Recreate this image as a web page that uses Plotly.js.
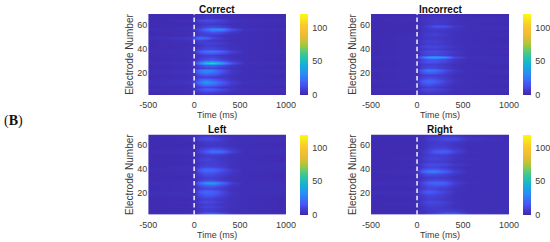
<!DOCTYPE html>
<html><head><meta charset="utf-8">
<script src="https://cdn.plot.ly/plotly-3.0.1.min.js"></script>
<style>html,body{margin:0;padding:0;background:#fff}</style></head>
<body><div id="chart" style="width:550px;height:242px"></div>
<script>
const times = [-500,-40,0,50,120,200,300,400,550,1000];
const panelTitles = ['Correct','Incorrect','Left','Right'];
const timeTicks = [-500,0,500,1000];
const timeTickLabels = ['-500','0','500','1000'];
const electrodeTicks = [20,40,60];
const colorTicks = [0,50,100];

const correctE = [1,3,6,8,10,12,14,16,18,20,22,24,26,28,30,33,35,38,40,43,45,47,49,51,54,56,58,61,64,66,69];
const correctZ = [
[2,2,3,4,4,4,3,3,2,2],[2,3,4,6,7,6,5,3,3,2],[3,3,6,13,19,18,12,6,3,3],[2,3,4,8,10,9,6,4,3,2],
[3,4,8,18,28,24,15,7,3,3],[3,5,11,26,37,31,18,8,4,3],[3,4,8,18,26,20,12,6,3,3],[2,3,4,8,9,8,6,4,3,2],
[2,3,5,11,15,13,8,4,3,2],[3,4,9,22,29,25,14,6,3,3],[3,4,9,25,32,29,16,6,3,3],[2,3,4,8,10,10,7,4,3,2],
[2,3,5,11,17,19,13,6,3,2],[3,4,10,28,56,65,42,15,4,3],[2,3,5,10,15,17,11,6,3,2],[2,3,4,7,9,10,7,4,3,2],
[2,3,4,6,8,8,6,4,3,2],[3,3,7,16,25,27,20,9,3,3],[2,3,4,8,11,11,8,4,3,2],[2,3,3,5,7,7,5,4,3,2],
[2,3,4,7,9,9,7,4,3,2],[2,4,6,9,8,6,5,3,3,2],[3,6,14,25,20,12,6,4,3,2],[2,3,5,8,8,7,5,3,3,2],
[2,3,4,8,11,15,12,6,3,2],[3,3,5,12,22,35,33,14,4,3],[2,3,4,7,11,13,11,5,3,2],[2,2,3,5,6,6,5,3,3,2],
[2,3,5,10,13,12,9,5,3,3],[2,2,3,5,6,6,5,3,3,2],[2,2,3,3,4,4,3,3,2,2]];

const incorrectE = [1,3,6,8,10,13,15,18,20,22,24,27,29,31,33,35,38,40,42,44,46,49,52,55,57,59,61,65,69];
const incorrectZ = [
[2,2,3,3,4,4,3,3,2,2],[2,2,3,5,6,5,4,3,3,2],[3,3,4,10,12,10,7,4,3,3],[2,3,3,7,8,7,5,3,3,2],
[2,3,4,12,15,12,7,4,3,2],[3,3,6,17,23,19,10,5,3,3],[2,3,4,10,13,11,7,4,3,2],[2,3,3,7,8,8,6,3,3,2],
[2,3,4,14,20,18,10,5,3,3],[3,3,6,18,28,25,13,6,3,3],[2,3,3,9,12,11,7,4,3,2],[2,3,3,7,8,8,6,4,3,2],
[2,3,4,11,14,13,9,5,3,3],[2,3,4,11,15,16,11,6,3,3],[3,3,7,23,41,46,34,12,4,3],[2,3,3,8,10,11,8,5,3,2],
[2,3,4,9,12,12,9,6,3,3],[2,3,3,6,8,8,6,4,3,2],[2,3,4,9,11,11,8,5,3,3],[2,3,3,6,7,7,6,4,3,2],
[2,3,3,7,9,9,6,4,3,2],[2,3,3,5,6,6,5,4,3,2],[2,3,3,6,8,9,6,4,3,3],[2,2,3,5,6,6,5,4,3,2],
[2,2,3,5,7,9,8,5,3,3],[2,2,3,6,9,15,14,7,3,3],[2,2,3,4,6,7,6,4,3,2],[2,3,3,5,6,7,6,4,3,3],
[2,2,3,3,4,4,3,3,2,2]];

const leftE = [1,2,4,6,8,10,12,14,16,18,21,23,26,28,30,33,36,39,42,45,48,51,53,55,57,60,63,66,69];
const leftZ = [
[3,3,5,12,24,27,17,7,3,3],[3,3,5,12,21,24,15,6,3,3],[2,3,3,6,9,8,6,4,3,2],[2,2,3,5,7,7,5,3,3,2],
[2,3,4,8,11,10,7,4,3,2],[2,2,3,6,7,7,5,4,3,2],[2,3,4,9,13,11,7,4,3,2],[2,2,3,6,8,8,5,4,3,2],
[2,3,4,8,11,10,7,4,3,2],[3,3,4,12,17,16,10,5,3,3],[3,3,5,16,23,21,12,5,3,3],[2,3,3,8,10,9,7,4,3,3],
[2,3,4,11,16,17,11,5,3,3],[3,3,6,22,38,42,24,9,3,3],[2,3,3,8,12,12,8,4,3,3],[2,2,3,6,8,8,6,4,3,2],
[2,3,4,9,14,13,9,5,3,2],[3,3,5,16,24,23,15,7,3,3],[2,3,3,8,10,10,8,4,3,3],[2,2,3,6,8,8,7,4,3,3],
[2,3,4,8,10,9,6,4,3,2],[2,2,3,5,7,7,6,4,3,2],[2,3,3,7,10,13,11,5,3,3],[3,3,4,10,17,27,24,10,3,3],
[2,3,3,7,10,13,11,6,3,3],[2,2,3,4,5,6,5,4,3,2],[2,2,3,5,7,7,6,4,3,3],[2,3,5,10,13,12,8,4,3,3],
[2,2,3,4,5,5,4,3,3,2]];

const rightE = [1,2,4,7,10,12,14,17,19,21,23,26,28,30,33,36,38,40,42,44,46,49,52,55,58,61,63,66,69];
const rightZ = [
[2,3,3,5,7,9,16,16,5,3],[3,3,3,5,8,11,18,20,6,3],[2,2,3,4,6,7,9,8,4,3],[2,2,3,5,7,7,6,4,3,3],
[2,3,3,6,9,9,7,4,3,3],[2,3,4,8,12,11,9,5,3,3],[2,2,3,6,8,8,6,4,3,3],[2,3,4,7,10,9,7,4,3,3],
[3,3,5,10,14,12,8,4,3,3],[3,3,6,13,19,15,10,5,3,3],[2,2,3,7,10,9,7,4,3,3],[2,3,4,8,12,14,12,6,3,3],
[3,3,4,11,19,23,19,9,4,3],[2,3,3,7,11,13,11,6,3,3],[2,2,3,5,7,7,6,4,3,3],[2,3,4,9,14,13,10,6,3,3],
[3,3,5,19,30,31,20,9,4,3],[2,3,4,10,14,14,10,6,3,3],[2,2,3,6,9,9,7,4,3,3],[2,3,4,9,13,13,12,7,4,3],
[2,2,3,5,8,8,7,4,3,3],[2,3,3,7,10,10,8,5,4,3],[2,2,3,5,8,9,8,5,3,3],[2,2,3,6,10,18,20,11,4,3],
[2,2,3,4,7,9,9,6,3,3],[2,2,3,4,6,7,7,5,3,3],[2,2,3,4,6,7,8,7,4,3],[2,2,3,5,8,10,13,13,6,3],
[2,2,3,3,4,5,5,5,3,2]];

const electrodeRows = [correctE,incorrectE,leftE,rightE];
const values = [correctZ,incorrectZ,leftZ,rightZ];

const parula = [[0,'#3e26a8'],[0.125,'#4852f4'],[0.25,'#2d87f7'],[0.375,'#12b1d6'],[0.5,'#37c897'],[0.625,'#abc739'],[0.72,'#e8bb35'],[0.85,'#fac72c'],[1,'#f9fb15']];

const W=550,H=242;
const xBoxes=[[148.5,286.5],[371.7,510],[148.5,286.5],[371.7,510]];
const yBoxes=[[14,95],[14,95],[134.5,214.8],[134.5,214.8]];
const cbX=[300,523,300,523];
const textCol='#3a3a3a';
const tickFont={family:'"Liberation Sans",Arial,sans-serif',size:9,color:textCol};
const titleFont={family:'"Liberation Sans",Arial,sans-serif',size:9,color:textCol};
const yTitleFont={family:'"Liberation Sans",Arial,sans-serif',size:10,color:textCol};

const data=[],annotations=[];
const layout={width:W,height:H,margin:{l:0,r:0,t:0,b:0},paper_bgcolor:'#fff',plot_bgcolor:'#fff',showlegend:false,hovermode:false};
panelTitles.forEach((t,i)=>{
  const n=i===0?'':String(i+1);
  const yb=yBoxes[i],xb=xBoxes[i];
  data.push({type:'heatmap',x:times,y:electrodeRows[i],z:values[i],zmin:0,zmax:120,zsmooth:'best',
    colorscale:parula,xaxis:'x'+n,yaxis:'y'+n,
    colorbar:{x:cbX[i]/W,xanchor:'left',thickness:8,thicknessmode:'pixels',lenmode:'fraction',len:(yb[1]-yb[0])/H,
      y:1-(yb[0]+yb[1])/2/H,yanchor:'middle',xpad:0,ypad:0,tickvals:colorTicks,ticks:'outside',ticklen:3,tickcolor:'rgba(0,0,0,0)',outlinewidth:0,
      tickfont:tickFont}});
  data.push({type:'scatter',mode:'lines',x:[0,0],y:[1,69],xaxis:'x'+n,yaxis:'y'+n,
    line:{color:'#ffffff',width:1.4,dash:'4.5px,2.8px'},hoverinfo:'skip'});
  layout['xaxis'+n]={domain:[xb[0]/W,xb[1]/W],range:[-500,1000],anchor:'y'+n,tickmode:'array',tickvals:timeTicks,ticktext:timeTickLabels,ticks:'outside',ticklen:1,tickcolor:'rgba(0,0,0,0)',showgrid:false,zeroline:false,
    showline:false,tickfont:tickFont,automargin:false,title:{text:'Time (ms)',font:titleFont,standoff:2}};
  layout['yaxis'+n]={domain:[1-yb[1]/H,1-yb[0]/H],range:[1,69],anchor:'x'+n,tickvals:electrodeTicks,ticks:'',showgrid:false,zeroline:false,
    showline:false,tickfont:tickFont,automargin:false,title:{text:'Electrode Number',font:yTitleFont,standoff:1}};
  annotations.push({xref:'paper',yref:'paper',x:(xb[0]+xb[1])/2/W,y:1-(yb[0]-1)/H,yanchor:'bottom',xanchor:'center',showarrow:false,
    text:'<b>'+t+'</b>',font:{family:'"Liberation Sans",Arial,sans-serif',size:10,color:'#111'},borderpad:0,yshift:-2.5});
});
annotations.push({xref:'paper',yref:'paper',x:3/W,y:1-121/H,xanchor:'left',yanchor:'middle',showarrow:false,
  text:'(<b>B</b>)',font:{family:'"Liberation Serif",serif',size:14,color:'#111'},borderpad:0});
layout.annotations=annotations;
Plotly.newPlot('chart',data,layout,{displayModeBar:false,staticPlot:true});
</script></body></html>
